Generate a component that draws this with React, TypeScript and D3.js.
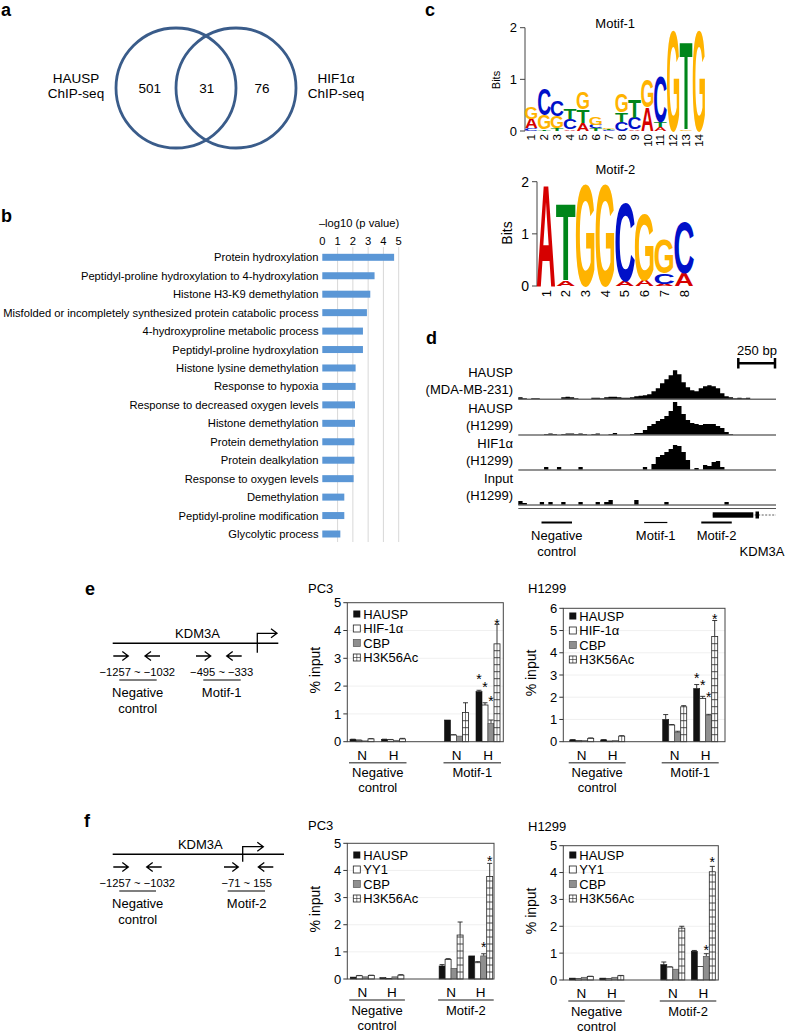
import React from "react";
import * as d3 from "d3";

const FONT = "'Liberation Sans', Arial, Helvetica, sans-serif";

// ---------- a: Venn ----------
const VENN_SETS = [["HAUSP", "ChIP-seq"], ["HIF1α", "ChIP-seq"]];
const VENN_COUNTS = [501, 31, 76];

// ---------- b: GO terms ----------
const GO_TERMS = [
  "Protein hydroxylation",
  "Peptidyl-proline hydroxylation to 4-hydroxylation",
  "Histone H3-K9 demethylation",
  "Misfolded or incompletely synthesized protein catabolic process",
  "4-hydroxyproline metabolic process",
  "Peptidyl-proline hydroxylation",
  "Histone lysine demethylation",
  "Response to hypoxia",
  "Response to decreased oxygen levels",
  "Histone demethylation",
  "Protein demethylation",
  "Protein dealkylation",
  "Response to oxygen levels",
  "Demethylation",
  "Peptidyl-proline modification",
  "Glycolytic process",
];
const GO_LOGP = [4.7, 3.42, 3.14, 2.92, 2.66, 2.66, 2.18, 2.18, 2.14, 2.14, 2.1, 2.1, 2.05, 1.44, 1.44, 1.18];
const GO_TICKS = [0, 1, 2, 3, 4, 5];

// ---------- c: motifs (bottom -> top stacks, bits) ----------
type Stack = [string, number][];
const MOTIF1: Stack[] = [
  [["C", 0.05], ["A", 0.19], ["G", 0.23]],
  [["T", 0.03], ["G", 0.28], ["C", 0.5]],
  [["T", 0.05], ["G", 0.24], ["C", 0.3]],
  [["A", 0.03], ["C", 0.21], ["T", 0.21]],
  [["A", 0.16], ["T", 0.26], ["G", 0.34]],
  [["T", 0.05], ["C", 0.07], ["G", 0.16]],
  [["C", 0.02], ["T", 0.02], ["G", 0.03]],
  [["C", 0.17], ["T", 0.19], ["G", 0.36]],
  [["A", 0.03], ["C", 0.23], ["T", 0.36]],
  [["A", 0.47], ["G", 0.53]],
  [["A", 0.07], ["T", 0.1], ["C", 0.9]],
  [["G", 1.98]],
  [["G", 0.03], ["T", 1.73]],
  [["G", 1.98]],
];
const MOTIF2: Stack[] = [
  [["A", 1.99]],
  [["A", 0.11], ["T", 1.51]],
  [["G", 1.98]],
  [["G", 1.98]],
  [["A", 0.1], ["C", 1.52]],
  [["A", 0.12], ["G", 1.31]],
  [["A", 0.04], ["C", 0.2], ["G", 0.66]],
  [["A", 0.25], ["C", 1.0]],
];
const BIT_TICKS = [0, 1, 2];
const LETTER_COLORS: Record<string, string> = { A: "#d60000", C: "#0010c8", G: "#ffb300", T: "#00861a" };

// ---------- d: genome tracks (coverage per bin) ----------
const TRACK_LABELS = [
  ["HAUSP", "(MDA-MB-231)"],
  ["HAUSP", "(H1299)"],
  ["HIF1α", "(H1299)"],
  ["Input", "(H1299)"],
];
const TRACK_HAUSP_MDA = [2, 1, 0, 1, 1, 0, 0, 0, 0, 0, 2, 2.5, 2, 1, 0, 0, 0, 1.5, 1.5, 1, 2, 2.5, 2.5, 2, 1.5, 1.5, 2, 3, 3.5, 4, 5, 8, 11, 16, 20, 24, 29, 25, 17, 12, 9, 8, 11, 13, 14, 13, 11, 6, 3, 2, 1, 1.5, 1, 1.5, 0, 0, 0, 0, 0, 0];
const TRACK_HAUSP_H1299 = [0, 0, 0, 0, 0, 0, 1, 1.5, 1, 0, 1, 1.5, 1.5, 1, 1.5, 1, 0, 1, 1.5, 0, 0, 1, 2, 0, 0, 0, 1, 2, 2, 5, 9, 11, 14, 16, 19, 24, 33, 29, 21, 15, 12, 11, 10, 11, 11, 11, 9, 7, 3, 1, 0, 0, 0, 0, 0, 0, 0, 0, 0, 0];
const TRACK_HIF_H1299 = [0, 0, 0, 0, 0, 0, 3, 0, 0, 3, 0, 0, 0, 0, 3, 0, 0, 0, 0, 0, 0, 0, 0, 0, 0, 0, 0, 0, 0, 3, 0, 6, 13, 15, 18, 21, 25, 24, 18, 10, 0, 2, 0, 5, 4, 8, 9, 3, 0, 0, 0, 0, 0, 0, 0, 0, 0, 0, 0, 0];
const TRACK_INPUT = [4, 2, 0, 0, 0, 3, 0, 3, 0, 0, 3, 0, 0, 0, 3, 0, 0, 0, 3, 0, 3, 5, 0, 0, 0, 0, 0, 5, 0, 0, 0, 0, 0, 0, 3, 0, 0, 0, 0, 0, 0, 0, 0, 0, 0, 0, 0, 0, 3, 0, 0, 0, 0, 0, 0, 0, 0, 0, 0, 0];
const REGIONS = [
  { name: ["Negative", "control"], from: 5.4, to: 12.5 },
  { name: ["Motif-1"], from: 29.3, to: 34.7 },
  { name: ["Motif-2"], from: 42.6, to: 49.7 },
];

// ---------- e / f: ChIP-qPCR ----------
const COND = ["N", "H", "N", "H"];
const E_SERIES = ["HAUSP", "HIF-1α", "CBP", "H3K56Ac"];
const F_SERIES = ["HAUSP", "YY1", "CBP", "H3K56Ac"];
const E_PC3_VALUES = [[0.08, 0.08, 0.78, 1.8], [0.05, 0.07, 0.24, 1.32], [0.03, 0.05, 0.2, 0.65], [0.1, 0.1, 1.05, 3.52]];
const E_PC3_ERRORS = [[0.01, 0.01, 0, 0.05], [0.01, 0.01, 0.01, 0.08], [0, 0, 0, 0.13], [0.01, 0.02, 0.35, 0.7]];
const E_PC3_STARS = [[null, null, null, 2.36], [null, null, null, 2.06], [null, null, null, 1.56], [null, null, null, 4.35]];
const E_H1299_VALUES = [[0.08, 0.08, 1.0, 2.39], [0.05, 0.03, 0.75, 1.94], [0.05, 0.05, 0.42, 1.19], [0.15, 0.25, 1.57, 4.73]];
const E_H1299_ERRORS = [[0.01, 0.01, 0.22, 0.18], [0, 0, 0.02, 0.1], [0, 0, 0.05, 0.04], [0.02, 0.02, 0.05, 0.72]];
const E_H1299_STARS = [[null, null, null, 3.0], [null, null, null, 2.7], [null, null, null, 2.16], [null, null, null, 5.67]];
const F_PC3_VALUES = [[0.07, 0.05, 0.48, 0.85], [0.12, 0.02, 0.72, 0.6], [0.08, 0.08, 0.39, 0.85], [0.13, 0.14, 1.62, 3.78]];
const F_PC3_ERRORS = [[0, 0, 0.05, 0], [0.01, 0, 0.03, 0.04], [0, 0, 0, 0.08], [0.01, 0.02, 0.48, 0.48]];
const F_PC3_STARS = [[null, null, null, null], [null, null, null, null], [null, null, null, 1.3], [null, null, null, 4.45]];
const F_H1299_VALUES = [[0.07, 0.07, 0.57, 1.07], [0.05, 0.05, 0.48, 0.5], [0.1, 0.1, 0.4, 0.88], [0.13, 0.16, 1.93, 4.03]];
const F_H1299_ERRORS = [[0, 0, 0.1, 0.03], [0, 0, 0.01, 0], [0, 0, 0, 0.1], [0.01, 0.01, 0.07, 0.2]];
const F_H1299_STARS = [[null, null, null, null], [null, null, null, null], [null, null, null, 1.24], [null, null, null, 4.5]];

// ---------------------------------------------------------------

function PanelLabel({ x, y, t }: { x: number; y: number; t: string }) {
  return (
    <text x={x} y={y} fontSize={18} fontWeight="bold" fill="#000">
      {t}
    </text>
  );
}

function PanelA() {
  const cx = d3.scaleLinear().domain([0, 1]).range([176, 236]);
  const r = 60;
  const cy = 88;
  const numX = [149.7, 206.7, 262];
  return (
    <g>
      <PanelLabel x={1} y={16} t="a" />
      {[0, 1].map((i) => (
        <circle key={i} cx={cx(i)} cy={cy} r={r} fill="none" stroke="#3a5c8a" strokeWidth={2.8} />
      ))}
      {VENN_SETS.map((s, i) => (
        <g key={i}>
          <text x={i === 0 ? 76 : 336} y={83} fontSize={13.5} textAnchor="middle">{s[0]}</text>
          <text x={i === 0 ? 76 : 336} y={98} fontSize={13.5} textAnchor="middle">{s[1]}</text>
        </g>
      ))}
      {VENN_COUNTS.map((c, i) => (
        <text key={i} x={numX[i]} y={92.5} fontSize={13.5} textAnchor="middle">{c}</text>
      ))}
    </g>
  );
}

function PanelB() {
  const x = d3.scaleLinear().domain([0, 5]).range([322.3, 398.7]);
  const y = d3.scalePoint<string>().domain(GO_TERMS).range([257.3, 534]);
  return (
    <g>
      <PanelLabel x={1} y={222} t="b" />
      <text x={359} y={227} fontSize={11.2} textAnchor="middle">–log10 (p value)</text>
      {GO_TICKS.map((t) => (
        <g key={t}>
          <text x={x(t)} y={245} fontSize={11.2} textAnchor="middle">{t}</text>
          {t > 0 && <line x1={x(t)} x2={x(t)} y1={247} y2={542} stroke="#d4d4d4" strokeWidth={0.9} />}
        </g>
      ))}
      {GO_TERMS.map((term, i) => (
        <g key={term}>
          <text x={318.5} y={(y(term) as number) + 4} fontSize={11.2} textAnchor="end">{term}</text>
          <rect x={x(0)} y={(y(term) as number) - 3.5} width={x(GO_LOGP[i]) - x(0)} height={7} fill="#5b97d6" />
        </g>
      ))}
    </g>
  );
}

const INK_W: Record<string, number> = { A: 70, C: 64, G: 69, T: 58 };
const CAP = 71.6;

function Logo({ data, axisX, y0, y2, x1, step, title, titleY, bitsX, bitsY, bitsSize, tickSize, numSize, numY }: any) {
  const y = d3.scaleLinear().domain([0, 2]).range([y0, y2]);
  const x = d3.scaleLinear().domain([1, data.length]).range([x1, x1 + step * (data.length - 1)]);
  const cx = (axisX + x(data.length) + step / 2) / 2;
  return (
    <g>
      <text x={cx} y={titleY} fontSize={13} textAnchor="middle">{title}</text>
      <line x1={axisX} x2={axisX} y1={y(2)} y2={y(0)} stroke="#444" strokeWidth={1} />
      {BIT_TICKS.map((t) => (
        <g key={t}>
          <line x1={axisX - 5} x2={axisX} y1={y(t)} y2={y(t)} stroke="#444" strokeWidth={1} />
          <text x={axisX - 8} y={y(t) + tickSize * 0.36} fontSize={tickSize} textAnchor="end">{t}</text>
        </g>
      ))}
      <text transform={`translate(${bitsX},${bitsY}) rotate(-90)`} fontSize={bitsSize} textAnchor="middle">Bits</text>
      {data.map((stack: Stack, i: number) => {
        let acc = 0;
        return (
          <g key={i}>
            {stack.map(([ch, h], j) => {
              const yb = y(acc);
              acc += h;
              const yt = y(acc);
              const w = step * 0.96;
              return (
                <text
                  key={j}
                  x={0}
                  y={0}
                  fontSize={100}
                  fontWeight="bold"
                  textAnchor="middle"
                  fill={LETTER_COLORS[ch]}
                  transform={`translate(${x(i + 1)},${yb}) scale(${w / INK_W[ch]},${(yb - yt) / CAP})`}
                >
                  {ch}
                </text>
              );
            })}
            <text
              transform={`translate(${x(i + 1) + numSize * 0.36},${numY}) rotate(-90)`}
              fontSize={numSize}
              textAnchor="end"
            >
              {i + 1}
            </text>
          </g>
        );
      })}
    </g>
  );
}

function PanelC() {
  return (
    <g>
      <PanelLabel x={425} y={16} t="c" />
      <Logo data={MOTIF1} axisX={525} y0={131} y2={27.7} x1={531.3} step={12.9} title="Motif-1" titleY={28}
        bitsX={500} bitsY={80} bitsSize={11} tickSize={13} numSize={11.5} numY={134} />
      <Logo data={MOTIF2} axisX={537} y0={286} y2={181.7} x1={546} step={19.7} title="Motif-2" titleY={174}
        bitsX={512} bitsY={233} bitsSize={14} tickSize={14} numSize={13} numY={290} />
    </g>
  );
}

function PanelD() {
  const tracks = [TRACK_HAUSP_MDA, TRACK_HAUSP_H1299, TRACK_HIF_H1299, TRACK_INPUT];
  const baselines = [399.3, 435, 470, 505];
  const x = d3.scaleLinear().domain([0, 60]).range([518.3, 776]);
  const h = d3.scaleLinear().domain([0, 34]).range([0, 34]);
  return (
    <g>
      <PanelLabel x={426} y={344} t="d" />
      <text x={757} y={355} fontSize={13} textAnchor="middle">250 bp</text>
      <line x1={738.3} x2={775} y1={363.3} y2={363.3} stroke="#000" strokeWidth={2.5} />
      <line x1={738.3} x2={738.3} y1={358} y2={368.5} stroke="#000" strokeWidth={2.5} />
      <line x1={775} x2={775} y1={358} y2={368.5} stroke="#000" strokeWidth={2.5} />
      {tracks.map((t, k) => {
        const b = baselines[k];
        const pts = [...t, t[t.length - 1]];
        const area = d3
          .area<number>()
          .x((_, i) => x(i))
          .y0(b)
          .y1((d) => b - h(d))
          .curve(d3.curveStepAfter);
        return (
          <g key={k}>
            <text x={513} y={b - 22} fontSize={13} textAnchor="end">{TRACK_LABELS[k][0]}</text>
            <text x={513} y={b - 5} fontSize={13} textAnchor="end">{TRACK_LABELS[k][1]}</text>
            <path d={area(pts) || ""} fill="#000" />
            <line x1={x(0)} x2={x(60)} y1={b} y2={b} stroke="#6e6e6e" strokeWidth={1.4} />
          </g>
        );
      })}
      <line x1={x(0)} x2={x(60)} y1={508.5} y2={508.5} stroke="#555" strokeWidth={1.2} />
      <line x1={712.7} x2={776} y1={515} y2={515} stroke="#333" strokeWidth={0.8} strokeDasharray="2,1.5" />
      <rect x={712.7} y={512.3} width={40.6} height={5.4} fill="#000" />
      <rect x={755.5} y={511.5} width={3.5} height={7} fill="#000" />
      {REGIONS.map((r, i) => (
        <g key={i}>
          <line x1={x(r.from)} x2={x(r.to)} y1={522.5} y2={522.5} stroke="#000" strokeWidth={i === 1 ? 1.2 : 2} />
          {r.name.map((n, j) => (
            <text key={j} x={(x(r.from) + x(r.to)) / 2} y={540 + j * 15.5} fontSize={13} textAnchor="middle">{n}</text>
          ))}
        </g>
      ))}
      <text x={762} y={555.5} fontSize={13} textAnchor="middle">KDM3A</text>
    </g>
  );
}

function arrowPath(x1: number, x2: number, y: number) {
  const dir = x2 > x1 ? 1 : -1;
  return `M${x1},${y}L${x2},${y}M${x2 - dir * 6},${y - 4.5}L${x2},${y}L${x2 - dir * 6},${y + 4.5}`;
}

function Diagram({ y, lineX2, tssX, tssTop, tssBot, tssEnd, primers, ranges, labels }: any) {
  return (
    <g>
      <text x={(112.7 + lineX2) / 2 + 2} y={y - 5} fontSize={13} textAnchor="middle">KDM3A</text>
      <line x1={112.7} x2={lineX2} y1={y} y2={y} stroke="#000" strokeWidth={1.4} />
      <path d={`M${tssX},${tssBot}L${tssX},${tssTop}L${tssEnd},${tssTop}M${tssEnd - 6},${tssTop - 4.5}L${tssEnd},${tssTop}L${tssEnd - 6},${tssTop + 4.5}`}
        fill="none" stroke="#000" strokeWidth={1.3} />
      {primers.map((p: number[], i: number) => (
        <path key={i} d={arrowPath(p[0], p[1], y + 12.7)} fill="none" stroke="#000" strokeWidth={1.3} />
      ))}
      {ranges.map((r: any, i: number) => (
        <g key={i}>
          <text x={r.cx} y={y + 32.5} fontSize={11.2} textAnchor="middle">{r.text}</text>
          <line x1={r.u1} x2={r.u2} y1={y + 36.7} y2={y + 36.7} stroke="#000" strokeWidth={1.2} />
        </g>
      ))}
      {labels.map((l: any, i: number) =>
        l.lines.map((t: string, j: number) => (
          <text key={i + "-" + j} x={l.cx} y={y + 54 + j * 15.6} fontSize={13} textAnchor="middle">{t}</text>
        ))
      )}
    </g>
  );
}

function BarChart({ cfg, series, values, errors, stars, region }: any) {
  const y = d3.scaleLinear().domain([0, cfg.yMax]).range([cfg.bottom, cfg.top]);
  const x = d3.scaleLinear().domain([0, 4]).range([cfg.first, cfg.first + 4 * cfg.step]);
  const slots = [0, 1, 3, 4];
  const bw = 6;
  const ticks = d3.range(0, cfg.yMax + 1);
  const styles = ["black", "white", "gray", "hatch"];
  const bar = (style: string, bx: number, v: number, key: string) => {
    const yt = y(v);
    const yb = y(0);
    if (style === "black") return <rect key={key} x={bx} y={yt} width={bw} height={yb - yt} fill="#111" stroke="#111" strokeWidth={0.6} />;
    if (style === "gray") return <rect key={key} x={bx} y={yt} width={bw} height={yb - yt} fill="#8f8f8f" stroke="#555" strokeWidth={0.7} />;
    if (style === "white") return <rect key={key} x={bx} y={yt} width={bw} height={yb - yt} fill="#fff" stroke="#222" strokeWidth={0.8} />;
    const lines = d3.range(yb - 7, yt + 1.5, -7);
    return (
      <g key={key}>
        <rect x={bx} y={yt} width={bw} height={yb - yt} fill="#fff" stroke="#222" strokeWidth={0.8} />
        {yb - yt > 4 && <line x1={bx + bw / 2} x2={bx + bw / 2} y1={yt} y2={yb} stroke="#222" strokeWidth={0.6} />}
        {lines.map((ly: number, i: number) => (
          <line key={i} x1={bx} x2={bx + bw} y1={ly} y2={ly} stroke="#222" strokeWidth={0.8} />
        ))}
      </g>
    );
  };
  const pairs = [[0, 1], [2, 3]];
  return (
    <g>
      <text x={cfg.titleX} y={cfg.titleY} fontSize={13}>{cfg.title}</text>
      {ticks.map((t: number) => (
        <g key={t}>
          {t > 0 && t < cfg.yMax && <line x1={cfg.left} x2={cfg.right} y1={y(t)} y2={y(t)} stroke="#ececec" strokeWidth={0.8} />}
          <line x1={cfg.left - 4} x2={cfg.left} y1={y(t)} y2={y(t)} stroke="#333" strokeWidth={1} />
          <text x={cfg.left - 6} y={y(t) + 4.6} fontSize={13} textAnchor="end">{t}</text>
        </g>
      ))}
      <text transform={`translate(${cfg.left - 27},${(cfg.top + cfg.bottom) / 2 - 2}) rotate(-90)`} fontSize={14} textAnchor="middle">% input</text>
      {series.map((s: string, si: number) =>
        values[si].map((v: number, gi: number) => {
          const bx = x(slots[gi]) - 2 * bw + si * bw;
          const e = errors[si][gi];
          const st = stars[si][gi];
          return (
            <g key={si + "-" + gi}>
              {e > 0 && (
                <path d={`M${bx + bw / 2},${y(v)}L${bx + bw / 2},${y(v + e)}M${bx + bw / 2 - 2.5},${y(v + e)}L${bx + bw / 2 + 2.5},${y(v + e)}`}
                  stroke="#222" strokeWidth={0.9} fill="none" />
              )}
              {bar(styles[si], bx, v, "b")}
              {st != null && <text x={bx + bw / 2} y={y(st) + 8} fontSize={14} textAnchor="middle">*</text>}
            </g>
          );
        })
      )}
      <rect x={cfg.left} y={cfg.top} width={cfg.right - cfg.left} height={cfg.bottom - cfg.top} fill="none" stroke="#444" strokeWidth={1} />
      {series.map((s: string, si: number) => {
        const ly = cfg.legendY + si * 14.5;
        const sx = cfg.left + 6;
        return (
          <g key={s}>
            {si === 0 && <rect x={sx} y={ly - 3.5} width={7} height={7} fill="#111" />}
            {si === 1 && <rect x={sx} y={ly - 3.5} width={7} height={7} fill="#fff" stroke="#222" strokeWidth={0.8} />}
            {si === 2 && <rect x={sx} y={ly - 3.5} width={7} height={7} fill="#8f8f8f" stroke="#555" strokeWidth={0.7} />}
            {si === 3 && (
              <g>
                <rect x={sx} y={ly - 3.5} width={7} height={7} fill="#fff" stroke="#222" strokeWidth={0.8} />
                <line x1={sx + 3.5} x2={sx + 3.5} y1={ly - 3.5} y2={ly + 3.5} stroke="#222" strokeWidth={0.6} />
                <line x1={sx} x2={sx + 7} y1={ly} y2={ly} stroke="#222" strokeWidth={0.6} />
              </g>
            )}
            <text x={cfg.left + 16} y={ly + 4.6} fontSize={13}>{s}</text>
          </g>
        );
      })}
      {COND.map((c: string, gi: number) => (
        <text key={gi} x={x(slots[gi])} y={cfg.bottom + 18} fontSize={13.5} textAnchor="middle">{c}</text>
      ))}
      {pairs.map((p, pi) => {
        const x1 = x(slots[p[0]]) - 13;
        const x2 = x(slots[p[1]]) + 13;
        const names = pi === 0 ? ["Negative", "control"] : [region];
        return (
          <g key={pi}>
            <line x1={x1} x2={x2} y1={cfg.bottom + 21} y2={cfg.bottom + 21} stroke="#666" strokeWidth={1.6} />
            {names.map((n, j) => (
              <text key={j} x={(x1 + x2) / 2} y={cfg.bottom + 35.5 + j * 15} fontSize={13} textAnchor="middle">{n}</text>
            ))}
          </g>
        );
      })}
    </g>
  );
}

function PanelE() {
  return (
    <g>
      <PanelLabel x={85} y={595} t="e" />
      <Diagram
        y={643.3}
        lineX2={278.3}
        tssX={257.3}
        tssTop={633.3}
        tssBot={652.7}
        tssEnd={277}
        primers={[[113.3, 128.3], [160, 145], [196, 210.7], [241.7, 226.7]]}
        ranges={[
          { text: "−1257 ~ −1032", cx: 137.3, u1: 119.3, u2: 156.7 },
          { text: "−495 ~ −333", cx: 221.7, u1: 203.3, u2: 240.7 },
        ]}
        labels={[{ cx: 137.7, lines: ["Negative", "control"] }, { cx: 221.7, lines: ["Motif-1"] }]}
      />
      <BarChart
        cfg={{ left: 347.3, right: 503.3, top: 602.7, bottom: 741.7, yMax: 5, first: 362, step: 31.5, legendY: 614, title: "PC3", titleX: 308, titleY: 593 }}
        series={E_SERIES} values={E_PC3_VALUES} errors={E_PC3_ERRORS} stars={E_PC3_STARS} region="Motif-1"
      />
      <BarChart
        cfg={{ left: 563.3, right: 725, top: 608.3, bottom: 741.7, yMax: 6, first: 581.7, step: 31, legendY: 616, title: "H1299", titleX: 528, titleY: 593 }}
        series={E_SERIES} values={E_H1299_VALUES} errors={E_H1299_ERRORS} stars={E_H1299_STARS} region="Motif-1"
      />
    </g>
  );
}

function PanelF() {
  return (
    <g>
      <PanelLabel x={84} y={827} t="f" />
      <Diagram
        y={854.3}
        lineX2={284}
        tssX={242.7}
        tssTop={846.7}
        tssBot={861.7}
        tssEnd={263.3}
        primers={[[113.3, 128.3], [161.7, 146.7], [224, 238.3], [273.3, 258.3]]}
        ranges={[
          { text: "−1257 ~ −1032", cx: 137.3, u1: 119.3, u2: 156 },
          { text: "−71 ~ 155", cx: 246.7, u1: 227.7, u2: 265 },
        ]}
        labels={[{ cx: 137.7, lines: ["Negative", "control"] }, { cx: 246.7, lines: ["Motif-2"] }]}
      />
      <BarChart
        cfg={{ left: 347.3, right: 494, top: 843.3, bottom: 979, yMax: 5, first: 362.3, step: 29.6, legendY: 855, title: "PC3", titleX: 308, titleY: 830 }}
        series={F_SERIES} values={F_PC3_VALUES} errors={F_PC3_ERRORS} stars={F_PC3_STARS} region="Motif-2"
      />
      <BarChart
        cfg={{ left: 563.3, right: 718.3, top: 845.7, bottom: 980, yMax: 5, first: 581.3, step: 30.5, legendY: 855, title: "H1299", titleX: 528, titleY: 831 }}
        series={F_SERIES} values={F_H1299_VALUES} errors={F_H1299_ERRORS} stars={F_H1299_STARS} region="Motif-2"
      />
    </g>
  );
}

export default function App() {
  return (
    <svg
      width={788}
      height={1033}
      viewBox="0 0 788 1033"
      style={{ position: "absolute", left: 0, top: 0, background: "#fff" }}
      fontFamily={FONT}
    >
      <rect x={0} y={0} width={788} height={1033} fill="#fff" />
      <PanelA />
      <PanelB />
      <PanelC />
      <PanelD />
      <PanelE />
      <PanelF />
    </svg>
  );
}
